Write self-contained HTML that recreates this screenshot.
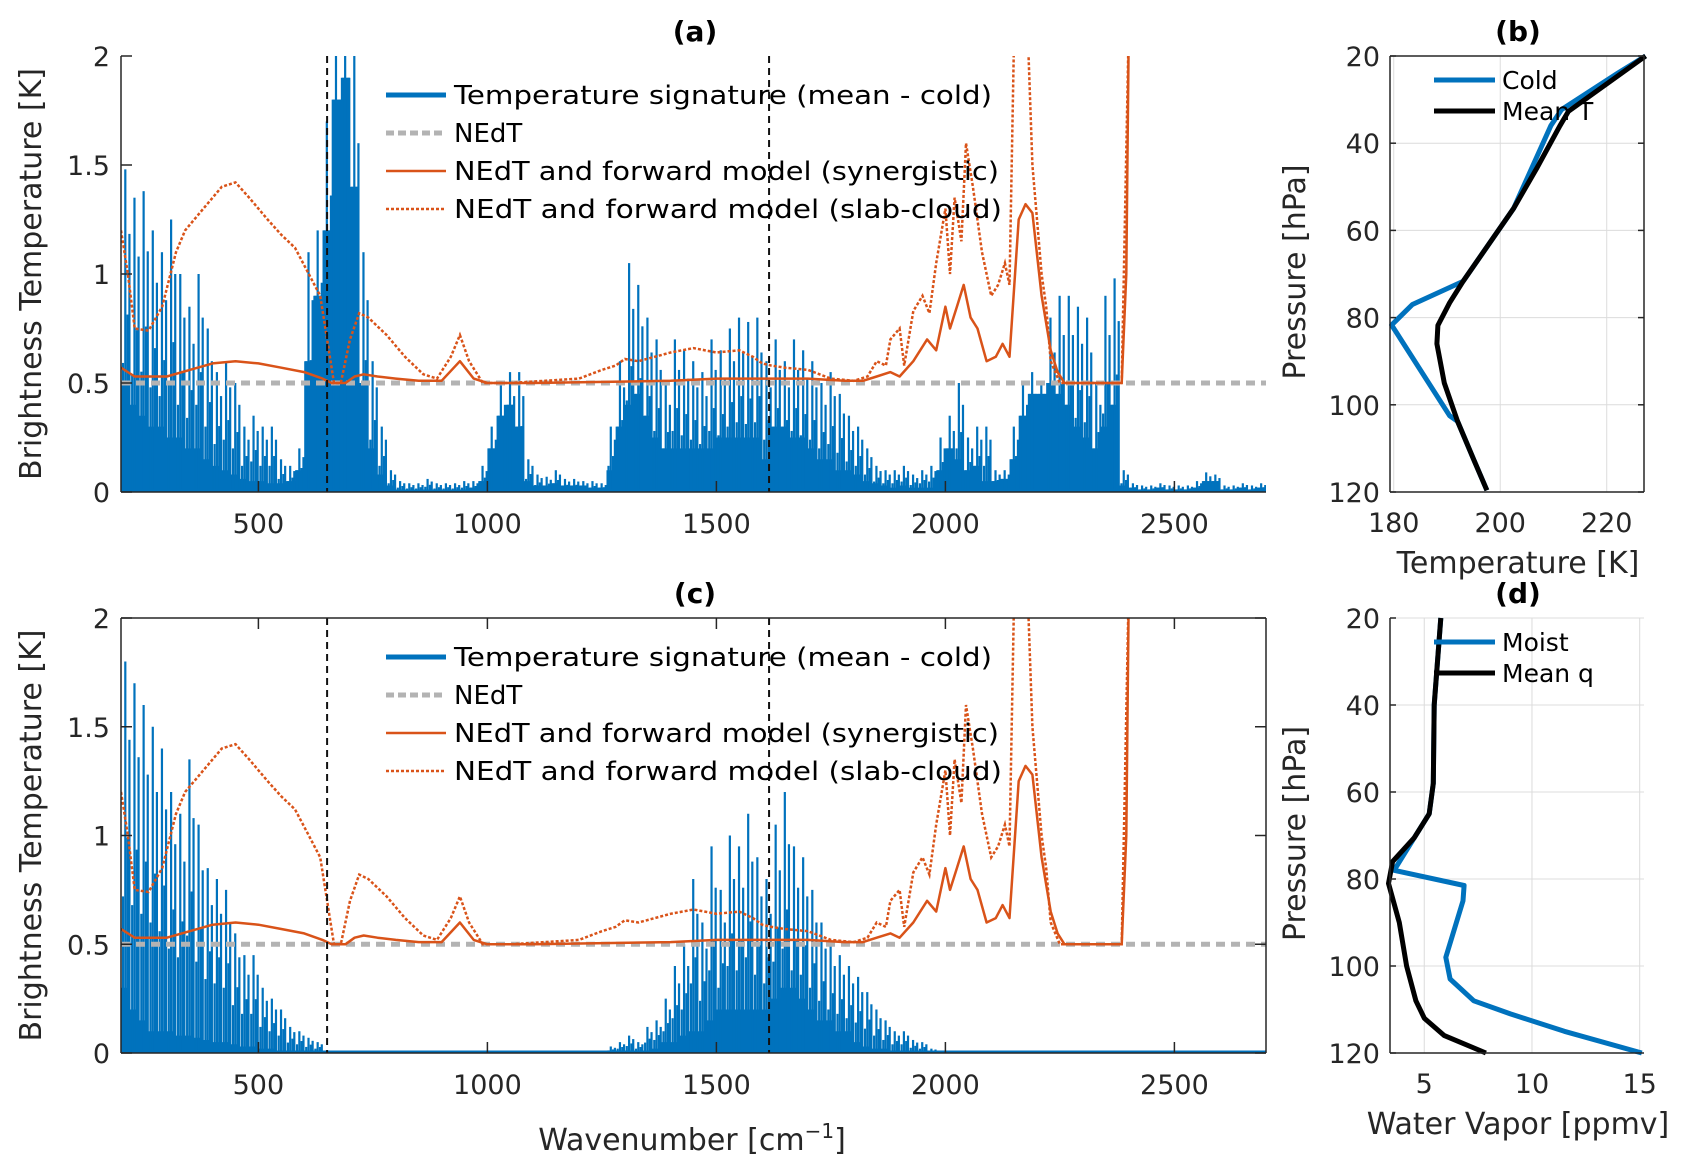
<!DOCTYPE html>
<html><head><meta charset="utf-8">
<style>
html,body{margin:0;padding:0;background:#fff;}
svg{display:block;font-family:"DejaVu Sans","Liberation Sans",sans-serif;}
</style></head>
<body>
<svg id="fig" width="1694" height="1174" viewBox="0 0 1694 1174" xmlns="http://www.w3.org/2000/svg">
<defs>
<clipPath id="clipA"><rect x="121" y="56" width="1145" height="436"/></clipPath>
<clipPath id="clipC"><rect x="121" y="618" width="1145" height="435"/></clipPath>
</defs>
<g id="root"></g>
</svg>
<script>
// ---- Spectral data (20 cm-1 bins starting at 200) ----
const binStart = 200;
const binWidth = 20;
const aHi = [1.48,1.35,1.38,1.2,1.1,1.25,1.0,0.85,1.0,0.75,
0.55,0.6,0.5,0.3,0.35,0.3,0.3,0.15,0.12,0.2,
1.1,1.2,1.7,2.2,2.2,2.0,1.1,0.6,0.3,0.1,
0.05,0.04,0.04,0.06,0.04,0.04,0.04,0.05,0.05,0.12,
0.3,0.5,0.55,0.55,0.15,0.08,0.07,0.1,0.06,0.06,
0.05,0.05,0.04,0.3,0.6,1.05,0.95,0.8,0.7,0.5,
0.7,0.65,0.6,0.55,0.7,0.65,0.75,0.8,0.78,0.8,
0.6,0.7,0.6,0.7,0.65,0.6,0.5,0.55,0.45,0.35,
0.3,0.2,0.12,0.1,0.1,0.12,0.08,0.1,0.12,0.25,
0.35,0.5,0.25,0.3,0.3,0.1,0.1,0.3,0.5,0.55,
0.5,0.8,0.9,0.9,0.85,0.8,0.5,0.9,0.98,0.1,
0.04,0.03,0.03,0.04,0.03,0.03,0.03,0.05,0.09,0.08,
0.03,0.03,0.04,0.03,0.04];
const aFill = [0.5,0.4,0.35,0.3,0.3,0.25,0.25,0.2,0.2,0.15,
0.12,0.1,0.08,0.06,0.05,0.05,0.04,0.04,0.05,0.1,
0.6,0.9,1.2,1.8,1.9,1.4,0.5,0.2,0.08,0.03,
0.01,0.01,0.01,0.01,0.01,0.01,0.01,0.01,0.02,0.05,
0.2,0.35,0.4,0.3,0.05,0.03,0.03,0.04,0.03,0.03,
0.03,0.02,0.02,0.1,0.3,0.4,0.45,0.35,0.25,0.2,
0.2,0.2,0.2,0.2,0.2,0.25,0.25,0.25,0.25,0.25,
0.15,0.3,0.3,0.25,0.25,0.2,0.15,0.15,0.1,0.1,
0.08,0.05,0.04,0.03,0.02,0.03,0.02,0.02,0.02,0.1,
0.2,0.15,0.1,0.12,0.05,0.05,0.06,0.15,0.35,0.45,
0.45,0.5,0.45,0.4,0.3,0.25,0.2,0.3,0.4,0.03,
0.02,0.01,0.01,0.02,0.01,0.01,0.01,0.02,0.05,0.05,
0.01,0.01,0.02,0.01,0.02];
const cHi = [1.8,1.7,1.6,1.5,1.4,1.2,1.1,1.35,1.05,0.85,
0.8,0.75,0.55,0.45,0.45,0.3,0.25,0.2,0.12,0.1,
0.07,0.05,0,0,0,0,0,0,0,0,
0,0,0,0,0,0,0,0,0,0,
0,0,0,0,0,0,0,0,0,0,
0,0,0,0.03,0.05,0.08,0.05,0.12,0.15,0.25,
0.4,0.5,0.8,0.6,0.95,0.75,1.0,0.95,1.1,0.9,
0.8,1.05,1.2,0.95,0.9,0.75,0.6,0.5,0.45,0.4,
0.35,0.28,0.2,0.15,0.1,0.1,0.06,0.05,0.02,0.01,
0,0,0,0,0,0,0,0,0,0,
0,0,0,0,0,0,0,0,0,0,
0,0,0,0,0,0,0,0,0,0,
0,0,0,0,0];
const cFill = [0.3,0.2,0.15,0.1,0.1,0.1,0.08,0.08,0.07,0.06,
0.05,0.05,0.04,0.03,0.03,0.02,0.02,0.01,0.01,0.01,
0.01,0,0,0,0,0,0,0,0,0,
0,0,0,0,0,0,0,0,0,0,
0,0,0,0,0,0,0,0,0,0,
0,0,0,0,0,0,0,0,0.02,0.05,
0.05,0.08,0.1,0.1,0.15,0.2,0.2,0.2,0.2,0.2,
0.2,0.25,0.3,0.3,0.25,0.2,0.15,0.15,0.1,0.1,
0.05,0.03,0.02,0.02,0.01,0.01,0,0,0,0,
0,0,0,0,0,0,0,0,0,0,
0,0,0,0,0,0,0,0,0,0,
0,0,0,0,0,0,0,0,0,0,
0,0,0,0,0];
// Forward model curves (wavenumber, K)
const synW = [200,230,300,350,400,450,500,550,600,640,660,690,710,730,760,800,850,900,940,970,1000,1100,1400,1500,1600,1700,1780,1820,1850,1880,1900,1930,1960,1980,2000,2010,2025,2040,2055,2070,2090,2110,2125,2140,2160,2175,2190,2210,2230,2245,2260,2300,2385,2395,2400];
const synV = [0.57,0.53,0.53,0.56,0.59,0.6,0.59,0.57,0.55,0.52,0.5,0.5,0.53,0.54,0.53,0.52,0.51,0.51,0.6,0.52,0.5,0.5,0.51,0.52,0.52,0.52,0.51,0.51,0.53,0.55,0.53,0.6,0.7,0.65,0.85,0.75,0.85,0.95,0.8,0.75,0.6,0.62,0.68,0.62,1.25,1.32,1.28,0.9,0.65,0.55,0.5,0.5,0.5,1.0,2.05];
const slabW = [200,215,230,260,290,320,340,380,420,450,480,520,550,580,610,635,650,665,680,700,720,740,780,820,860,890,920,940,960,990,1050,1200,1250,1280,1300,1330,1400,1450,1500,1550,1580,1600,1620,1650,1700,1750,1800,1830,1850,1870,1880,1900,1910,1930,1950,1965,1980,2000,2010,2020,2035,2045,2060,2080,2100,2115,2130,2140,2150,2180,2190,2210,2220,2230,2250,2385,2400];
const slabV = [1.2,1.0,0.75,0.74,0.85,1.1,1.2,1.3,1.4,1.42,1.35,1.25,1.18,1.12,1.0,0.9,0.7,0.5,0.5,0.7,0.82,0.8,0.72,0.62,0.54,0.52,0.62,0.72,0.6,0.5,0.5,0.52,0.56,0.58,0.61,0.6,0.64,0.66,0.64,0.65,0.62,0.59,0.58,0.57,0.56,0.52,0.51,0.53,0.6,0.58,0.7,0.75,0.58,0.83,0.9,0.82,1.05,1.3,1.0,1.35,1.15,1.6,1.4,1.1,0.9,0.95,1.05,0.95,2.1,2.1,1.5,1.0,0.85,0.6,0.5,0.5,2.1];
const nedt = 0.5;
const vlinesA = [650,1615];
const vlinesC = [650,1615];
const xTicks = [500,1000,1500,2000,2500];
const yTicks = [0,0.5,1,1.5,2];
const yTickLabels = ["0","0.5","1","1.5","2"];
// Panel b
const coldT = [227.3,222,211.5,209.5,202.5,193,183.5,179.6,190.5,192,195,197.5];
const coldP = [20,24,32.3,36,55,71.7,77,81.7,102.5,103.8,112.5,119.6];
const meanT = [227.3,212.8,211.2,206.8,202.5,193,190.5,188.3,188.1,189.5,192,195,197.5];
const meanTP = [20,32.7,36,45.9,55,71.7,76.6,81.8,86,95,103.8,112.5,119.6];
const bXTicks = [180,200,220];
const pTicks = [20,40,60,80,100,120];
// Panel d
const moistQ = [5.77,5.46,5.42,5.23,4.54,3.6,6.85,6.8,6.0,6.2,7.3,9.0,11.5,15.1];
const moistP = [20,40,58,65,70.5,78,81.5,85,98,103,108,111,115,120];
const meanQ = [5.77,5.46,5.42,5.23,4.54,3.53,3.34,3.84,4.18,4.61,5.0,5.93,7.86];
const meanQP = [20,40,58,65,70.5,76,81,90,100,108,112,116,120];
const dXTicks = [5,10,15];

const NS="http://www.w3.org/2000/svg";
const root=document.getElementById('root');
function el(tag,attrs,parent,text){const e=document.createElementNS(NS,tag);for(const k in attrs)e.setAttribute(k,attrs[k]);if(text!==undefined)e.textContent=text;(parent||root).appendChild(e);return e;}
const BLUE="#0072BD",ORANGE="#D95319",GRAY="#b3b3b3",AX="#262626";

function spectralPanel(top,bottom,hi,fill,vlines,clipId,title,box,pfx){
  const L=121,R=1266;
  const X=w=>L+(w-200)*(R-L)/2500;
  const Y=v=>bottom-v*(bottom-top)/2;
  const g=el('g',{});
  
  
  const dg=el('g',{'clip-path':'url(#'+clipId+')'},g);
  const sg=el('g',{fill:BLUE},dg);
  
  
  let d='M'+X(binStart)+','+Y(0);
  for(let i=0;i<fill.length;i++){const w0=binStart+i*binWidth;d+=' L'+X(w0)+','+Y(fill[i])+' L'+X(w0+binWidth)+','+Y(fill[i]);}
  d+=' L'+X(binStart+fill.length*binWidth)+','+Y(0)+' Z';
  el('path',{d:d},sg);
  const sub=[[2,0.4],[7,1.0],[12,0.55],[16,0.8]];
  for(let i=0;i<hi.length;i++){
    const w0=binStart+i*binWidth;
    if(hi[i]<=0)continue;
    sub.forEach(s=>{
      const h=Math.max(hi[i]*s[1],fill[i]);
      const a=el('rect',{x:X(w0+s[0]),y:Y(h),width:2.2,height:Y(0)-Y(h)},sg);
      
      
    });
  }
  el('line',{x1:L,x2:R,y1:Y(0)-1,y2:Y(0)-1,stroke:BLUE,'stroke-width':3},sg);
  const n=el('line',{x1:L,x2:R,y1:Y(nedt),y2:Y(nedt),stroke:GRAY,'stroke-width':5,'stroke-dasharray':'9,6'},dg);
  
  
  let ps=synW.map((w,i)=>(i?'L':'M')+X(w).toFixed(1)+','+Y(synV[i]).toFixed(1)).join(' ');
  const s=el('path',{d:ps,fill:'none',stroke:ORANGE,'stroke-width':2.5,'stroke-linejoin':'round'},dg);
  
  
  let pl=slabW.map((w,i)=>(i?'L':'M')+X(w).toFixed(1)+','+Y(slabV[i]).toFixed(1)).join(' ');
  const sl=el('path',{d:pl,fill:'none',stroke:ORANGE,'stroke-width':2.5,'stroke-dasharray':'3,2'},dg);
  
  
  vlines.forEach(w=>{const v=el('line',{x1:X(w),x2:X(w),y1:top,y2:bottom,stroke:'#111','stroke-width':2,'stroke-dasharray':'7,5'},g);
    
    });
  el('line',{x1:L,x2:L,y1:top,y2:bottom,stroke:AX,'stroke-width':1.5},g);
  el('line',{x1:L,x2:R,y1:bottom,y2:bottom,stroke:AX,'stroke-width':1.5},g);
  if(box){el('line',{x1:L,x2:R,y1:top,y2:top,stroke:AX,'stroke-width':1.5},g);el('line',{x1:R,x2:R,y1:top,y2:bottom,stroke:AX,'stroke-width':1.5},g);}
  xTicks.forEach(t=>{el('line',{x1:X(t),x2:X(t),y1:bottom,y2:bottom-11,stroke:AX,'stroke-width':1.5},g);
    if(box)el('line',{x1:X(t),x2:X(t),y1:top,y2:top+11,stroke:AX,'stroke-width':1.5},g);
    const tl=el('text',{x:X(t),y:bottom+41,'text-anchor':'middle','font-size':27,fill:AX},g,String(t));
    
    });
  yTicks.forEach((t,i)=>{el('line',{x1:L,x2:L+11,y1:Y(t),y2:Y(t),stroke:AX,'stroke-width':1.5},g);
    if(box)el('line',{x1:R,x2:R-11,y1:Y(t),y2:Y(t),stroke:AX,'stroke-width':1.5},g);
    const tl=el('text',{x:L-11,y:Y(t)+10,'text-anchor':'end','font-size':27,fill:AX},g,yTickLabels[i]);
    
    });
  const tt=el('text',{x:695,y:top-15,'text-anchor':'middle','font-size':28,'font-weight':'bold',fill:'#000'},g,title);
  
  
  const yl=el('text',{x:0,y:0,'text-anchor':'middle','font-size':30,fill:AX,transform:'translate(41,'+((top+bottom)/2)+') rotate(-90)'},g,'Brightness Temperature [K]');
  
  
  const lg=el('g',{},g);
  
  
  const rows=[['Temperature signature (mean - cold)',{stroke:BLUE,'stroke-width':5},538],['NEdT',{stroke:GRAY,'stroke-width':5,'stroke-dasharray':'8,4'},0],['NEdT and forward model (synergistic)',{stroke:ORANGE,'stroke-width':2.5},545],['NEdT and forward model (slab-cloud)',{stroke:ORANGE,'stroke-width':2.5,'stroke-dasharray':'3,2'},548]];
  rows.forEach((r,i)=>{const y=top+39+i*38;
    const ln=el('line',Object.assign({x1:386,x2:446,y1:y,y2:y},r[1]),lg);
    
    
    const at={x:454,y:y+9,'font-size':26,fill:'#000'};
    if(r[2]){at.textLength=r[2];at.lengthAdjust='spacingAndGlyphs';}
    const tx=el('text',at,lg,r[0]);
    
    });
}
spectralPanel(56,492,aHi,aFill,vlinesA,'clipA','(a)',false,'panel-a');
spectralPanel(618,1053,cHi,cFill,vlinesC,'clipC','(c)',true,'panel-c');
const xl=el('text',{x:692,y:1150,'text-anchor':'middle','font-size':30,fill:AX},root);


el('tspan',{},xl,'Wavenumber [cm');
el('tspan',{dy:-12,'font-size':20},xl,'−1');
el('tspan',{dy:12},xl,']');

function profilePanel(top,bottom,xmin,xmax,ticks,series,title,xlabel,legend,box,pfx){
  const L=1390,R=1644;
  const X=v=>L+(v-xmin)*(R-L)/(xmax-xmin);
  const Y=p=>top+(p-20)*(bottom-top)/100;
  const g=el('g',{});
  
  
  ticks.forEach(t=>el('line',{x1:X(t),x2:X(t),y1:top,y2:bottom,stroke:'#dcdcdc','stroke-width':1},g));
  pTicks.forEach(t=>el('line',{x1:L,x2:R,y1:Y(t),y2:Y(t),stroke:'#dcdcdc','stroke-width':1},g));
  series.forEach(s=>{const d=s.x.map((v,i)=>(i?'L':'M')+X(v).toFixed(1)+','+Y(s.p[i]).toFixed(1)).join(' ');
    const pth=el('path',{d:d,fill:'none',stroke:s.c,'stroke-width':5,'stroke-linejoin':'round'},g);
    
    });
  el('line',{x1:L,x2:L,y1:top,y2:bottom,stroke:AX,'stroke-width':1.5},g);
  el('line',{x1:L,x2:R,y1:bottom,y2:bottom,stroke:AX,'stroke-width':1.5},g);
  if(box){el('line',{x1:L,x2:R,y1:top,y2:top,stroke:AX,'stroke-width':1.5},g);el('line',{x1:R,x2:R,y1:top,y2:bottom,stroke:AX,'stroke-width':1.5},g);}
  ticks.forEach(t=>{const tl=el('text',{x:X(t),y:bottom+40,'text-anchor':'middle','font-size':27,fill:AX},g,String(t));
    
    });
  pTicks.forEach(t=>{el('line',{x1:L,x2:L+6,y1:Y(t),y2:Y(t),stroke:AX,'stroke-width':1.5},g);
    if(box)el('line',{x1:R,x2:R-6,y1:Y(t),y2:Y(t),stroke:AX,'stroke-width':1.5},g);
    const tl=el('text',{x:L-10,y:Y(t)+10,'text-anchor':'end','font-size':27,fill:AX},g,String(t));
    
    });
  const tt=el('text',{x:1518,y:top-15,'text-anchor':'middle','font-size':28,'font-weight':'bold',fill:'#000'},g,title);
  
  
  const xt=el('text',{x:1518,y:bottom+81,'text-anchor':'middle','font-size':30,fill:AX},g,xlabel);
  
  
  const yt=el('text',{x:0,y:0,'text-anchor':'middle','font-size':30,fill:AX,transform:'translate(1305,'+((top+bottom)/2-2)+') rotate(-90)'},g,'Pressure [hPa]');
  
  
  legend.forEach((r,i)=>{const y=top+24+i*31;
    const ln=el('line',{x1:1434,x2:1495,y1:y,y2:y,stroke:r[1],'stroke-width':5},g);
    
    
    const tx=el('text',{x:1502,y:y+9,'font-size':25,fill:'#000'},g,r[0]);
    
    });
}
profilePanel(56,492,179.3,227,bXTicks,[{x:coldT,p:coldP,c:BLUE,n:'cold-profile'},{x:meanT,p:meanTP,c:'#000',n:'mean-t-profile'}],'(b)','Temperature [K]',[['Cold',BLUE],['Mean T','#000']],true,'panel-b');
profilePanel(618,1053,3.41,15.2,dXTicks,[{x:moistQ,p:moistP,c:BLUE,n:'moist-profile'},{x:meanQ,p:meanQP,c:'#000',n:'mean-q-profile'}],'(d)','Water Vapor [ppmv]',[['Moist',BLUE],['Mean q','#000']],false,'panel-d');
</script>
</body></html>
